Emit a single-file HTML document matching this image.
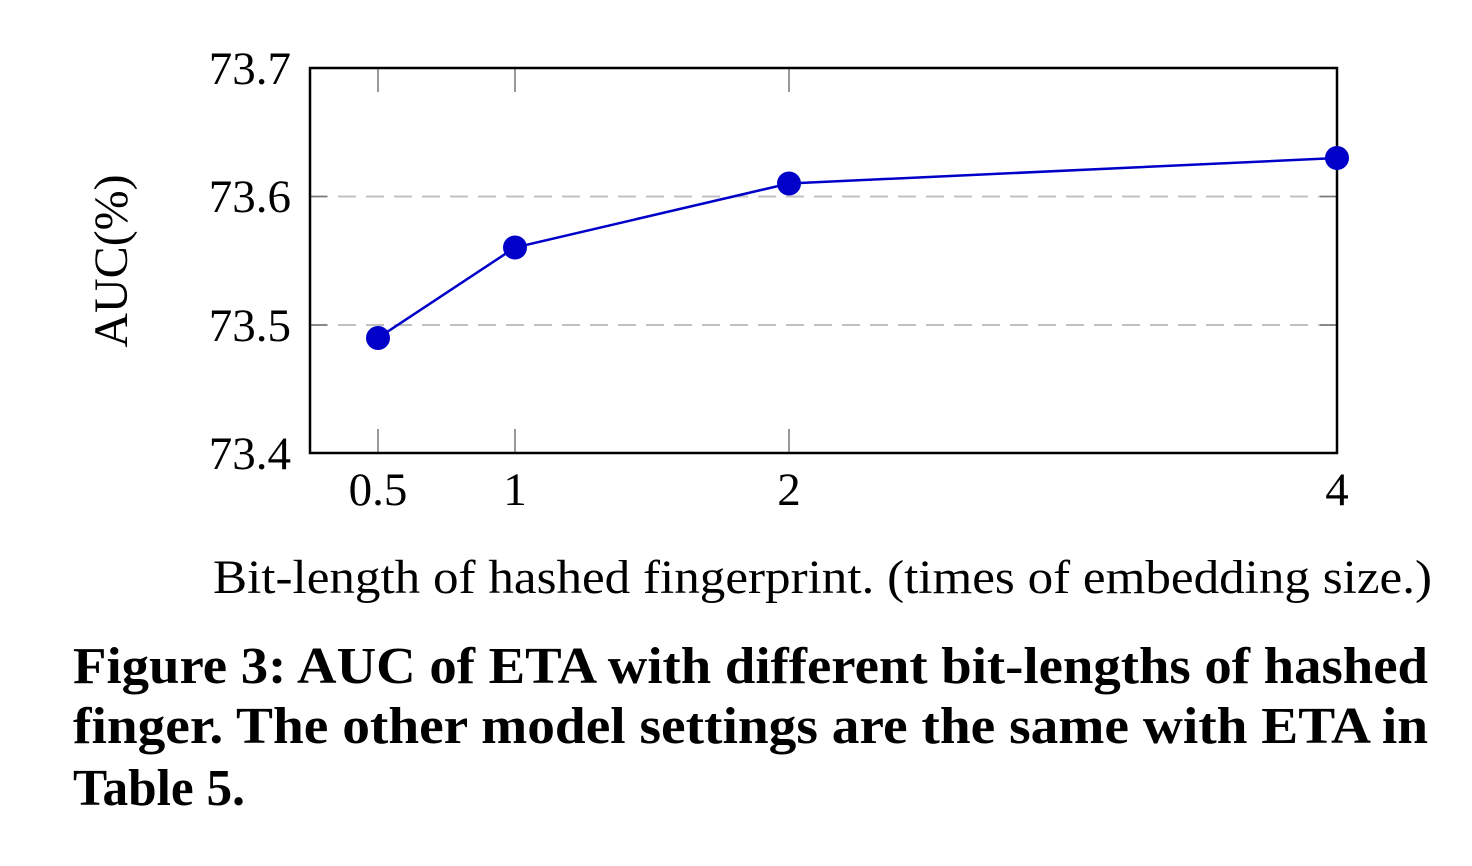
<!DOCTYPE html>
<html><head><meta charset="utf-8"><style>
html,body{margin:0;padding:0;background:#fff;}
svg{display:block;}
text{font-family:"Liberation Serif",serif;fill:#000;}
</style></head><body>
<svg width="1472" height="866" viewBox="0 0 1472 866" xmlns="http://www.w3.org/2000/svg">
<rect width="1472" height="866" fill="#fff"/>
<!-- grid -->
<g stroke="#c0c0c0" stroke-width="2" stroke-dasharray="18 10">
<line x1="310" y1="196.5" x2="1337" y2="196.5"/>
<line x1="310" y1="325" x2="1337" y2="325"/>
</g>
<!-- ticks -->
<g stroke="#777" stroke-width="1.5">
<line x1="378" y1="68" x2="378" y2="92"/><line x1="378" y1="453" x2="378" y2="429"/>
<line x1="515" y1="68" x2="515" y2="92"/><line x1="515" y1="453" x2="515" y2="429"/>
<line x1="789" y1="68" x2="789" y2="92"/><line x1="789" y1="453" x2="789" y2="429"/>
<line x1="310" y1="196.5" x2="327" y2="196.5"/><line x1="1337" y1="196.5" x2="1320" y2="196.5"/>
<line x1="310" y1="325" x2="327" y2="325"/><line x1="1337" y1="325" x2="1320" y2="325"/>
</g>
<!-- frame -->
<rect x="310" y="68" width="1027" height="385" fill="none" stroke="#000" stroke-width="2.5"/>
<!-- series -->
<polyline points="378,338 515,247.5 789,183.5 1337,158" fill="none" stroke="#0000c8" stroke-width="2.5"/>
<g fill="#0000c8">
<circle cx="378" cy="338" r="12"/>
<circle cx="515" cy="247.5" r="12"/>
<circle cx="789" cy="183.5" r="12"/>
<circle cx="1337" cy="158" r="12"/>
</g>
<!-- y tick labels -->
<g font-size="47" text-anchor="end">
<text x="291" y="84">73.7</text>
<text x="291" y="212">73.6</text>
<text x="291" y="341">73.5</text>
<text x="291" y="469">73.4</text>
</g>
<!-- x tick labels -->
<g font-size="47" text-anchor="middle">
<text x="378" y="505">0.5</text>
<text x="515" y="505">1</text>
<text x="789" y="505">2</text>
<text x="1337" y="505">4</text>
</g>
<!-- y label -->
<text font-size="48" text-anchor="middle" transform="translate(127,261) rotate(-90)">AUC(%)</text>
<!-- x title -->
<text x="213" y="593" font-size="48" textLength="1219" lengthAdjust="spacingAndGlyphs">Bit-length of hashed fingerprint. (times of embedding size.)</text>
<!-- caption -->
<g font-size="52" font-weight="bold">
<text x="73" y="683" textLength="1355" lengthAdjust="spacingAndGlyphs">Figure 3: AUC of ETA with different bit-lengths of hashed</text>
<text x="73" y="743" textLength="1355" lengthAdjust="spacingAndGlyphs">finger. The other model settings are the same with ETA in</text>
<text x="73" y="805" textLength="172" lengthAdjust="spacingAndGlyphs">Table 5.</text>
</g>
</svg>
</body></html>
